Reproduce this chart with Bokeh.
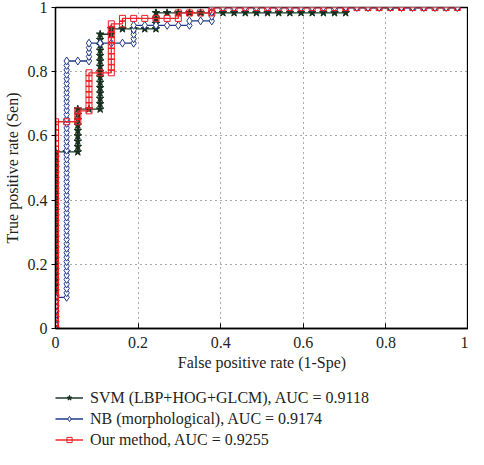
from bokeh.plotting import figure
from bokeh.models import Legend, LegendItem, FixedTicker
from bokeh.layouts import column
from bokeh.embed import file_html
from bokeh.resources import INLINE

# ---- data (counts) ----
n_neg = 37  # x step = 1/37
tick_values = [0, 0.2, 0.4, 0.6, 0.8, 1]
tick_labels = ["0", "0.2", "0.4", "0.6", "0.8", "1"]

series_names = [
    "SVM (LBP+HOG+GLCM), AUC = 0.9118",
    "NB (morphological), AUC = 0.9174",
    "Our method, AUC = 0.9255",
]

# SVM: true-positive counts at each false-positive count (column index)
svm_pos = 60
svm_cols = [
    [0, 1, 2, 3, 4, 5, 6, 7, 8, 9, 10, 11, 12, 13, 14, 15, 16, 17, 18, 19, 20, 21, 22, 23, 24, 25, 26, 27, 28, 29, 30, 31, 32, 33],
    [33],
    [33, 34, 35, 36, 37, 38, 39, 40, 41],
    [41],
    [41, 42, 43, 44, 45, 46, 47, 48, 49, 50, 51, 52, 53, 54, 55],
    [55, 56],
    [56], [56], [56],
    [56, 57, 58, 59],
    [59], [59], [59], [59], [59], [59], [59], [59],
    [59], [59], [59], [59], [59], [59], [59], [59],
    [59, 60],
    [60], [60], [60], [60], [60], [60], [60], [60], [60], [60],
]

# NB
nb_pos = 72
nb_cols = [
    [0, 1, 2, 3, 4, 5, 6, 7],
    [7, 8, 9, 10, 11, 12, 13, 14, 15, 16, 17, 18, 19, 20, 21, 22, 23, 24, 25, 26, 27, 28, 29, 30, 31, 32, 33,
     34, 35, 36, 37, 38, 39, 40, 41, 42, 43, 44, 45, 46, 47, 48, 49, 50, 51, 52, 53, 54, 55, 56, 57, 58, 59, 60],
    [60],
    [60, 61, 62, 63, 64],
    [64], [64], [64],
    [64, 65, 66, 67, 68],
    [68], [68], [68], [68],
    [68, 69],
    [69],
    [69, 70, 71, 72],
    [72], [72], [72], [72], [72], [72], [72], [72], [72], [72], [72],
    [72], [72], [72], [72], [72], [72], [72], [72], [72], [72], [72],
]

# Our method
our_pos = 59
our_cols = [
    [0, 1, 2, 3, 4, 5, 6, 7, 8, 9, 10, 11, 12, 13, 14, 15, 16, 17, 18, 19, 20, 21, 22, 23, 24, 25, 26, 27, 28,
     29, 30, 31, 32, 33, 34, 35, 36, 37, 38],
    [38],
    [38, 39, 40],
    [40, 41, 42, 43, 44, 45, 46, 47],
    [47],
    [47, 48, 49, 50, 51, 52, 53, 54, 55, 56],
    [56, 57],
    [57], [57], [57], [57],
    [57, 58],
    [58], [58],
    [58, 59],
    [59], [59], [59], [59], [59], [59], [59], [59], [59], [59], [59],
    [59], [59], [59], [59], [59], [59], [59], [59], [59], [59], [59],
]


def unpack(cols, npos):
    xs, ys = [], []
    for i, col in enumerate(cols):
        for t in col:
            xs.append(i / n_neg)
            ys.append(t / npos)
    return xs, ys


FONT = "Liberation Serif"
TXT = "#231f20"

p = figure(width=468, height=388, x_range=(0, 1), y_range=(0, 1),
           output_backend="svg", toolbar_location=None,
           min_border_top=7, min_border_right=0, min_border_left=10, min_border_bottom=60)
p.background_fill_color = "white"
p.border_fill_color = "white"
p.outline_line_color = "black"
p.outline_line_width = 1.3

for ax in (p.xaxis[0], p.yaxis[0]):
    ax.ticker = FixedTicker(ticks=tick_values)
    ax.major_label_overrides = {v: s for v, s in zip(tick_values, tick_labels)}
    ax.minor_tick_line_color = None
    ax.axis_line_color = "black"
    ax.axis_line_width = 1.3
    ax.major_tick_line_color = "black"
    ax.major_label_text_font = FONT
    ax.major_label_text_font_size = "16px"
    ax.major_label_text_color = TXT
    ax.axis_label_text_font = FONT
    ax.axis_label_text_font_size = "16px"
    ax.axis_label_text_font_style = "normal"
    ax.axis_label_text_color = TXT

p.xaxis.axis_label = "False positive rate (1-Spe)"
p.yaxis.axis_label = "True positive rate (Sen)"
p.xaxis.major_tick_in = 5
p.xaxis.major_tick_out = 0
p.xaxis.major_label_standoff = 8
p.xaxis.axis_label_standoff = 3
p.yaxis.major_tick_in = 0
p.yaxis.major_tick_out = 4
p.yaxis.major_label_standoff = 4
p.yaxis.axis_label_standoff = 4

for g in (p.xgrid[0], p.ygrid[0]):
    g.ticker = FixedTicker(ticks=tick_values)
    g.grid_line_color = "#555555"
    g.grid_line_dash = "1 4"
    g.grid_line_width = 1

styles = [
    dict(cols=svm_cols, npos=svm_pos, line="#1d3a26", marker="star", size=8,
         fill="#16301e", mline="#16301e"),
    dict(cols=nb_cols, npos=nb_pos, line="#1f3a8c", marker="diamond", size=8,
         fill="white", mline="#1f3a8c"),
    dict(cols=our_cols, npos=our_pos, line="#f02828", marker="square", size=6,
         fill=None, mline="#ee1c25"),
]

# legend-only figure below the chart; its ranges exclude the data, so the
# proxy renderers there draw nothing but their legend glyphs
p2 = figure(width=468, height=61, x_range=(2, 3), y_range=(2, 3),
            output_backend="svg", toolbar_location=None,
            min_border_top=0, min_border_right=0, min_border_left=45, min_border_bottom=0)
p2.axis.visible = False
p2.grid.visible = False
p2.outline_line_color = None
p2.background_fill_color = "white"
p2.border_fill_color = "white"

items = []
for name, st in zip(series_names, styles):
    xs, ys = unpack(st["cols"], st["npos"])
    kw_m = dict(marker=st["marker"], line_color=st["mline"], line_width=1.0)
    if st["fill"] is None:
        kw_m["fill_alpha"] = 0
    else:
        kw_m["fill_color"] = st["fill"]
    p.line(xs, ys, line_color=st["line"], line_width=1.3)
    p.scatter(xs, ys, size=st["size"], **kw_m)
    l1 = p2.line(xs[:2], ys[:2], line_color=st["line"], line_width=1.5)
    l2 = p2.scatter(xs[:1], ys[:1], size=st["size"] - 3, **kw_m)
    items.append(LegendItem(label=name, renderers=[l1, l2]))

legend = Legend(items=items, location="top_left", orientation="vertical",
                border_line_color=None, background_fill_alpha=0,
                margin=0, padding=0, spacing=2,
                glyph_width=28, glyph_height=13, label_height=19, label_standoff=7,
                label_text_font=FONT, label_text_font_size="16px",
                label_text_color=TXT)
p2.add_layout(legend, "center")

open("out.html", "w").write(file_html(column(p, p2), INLINE))
